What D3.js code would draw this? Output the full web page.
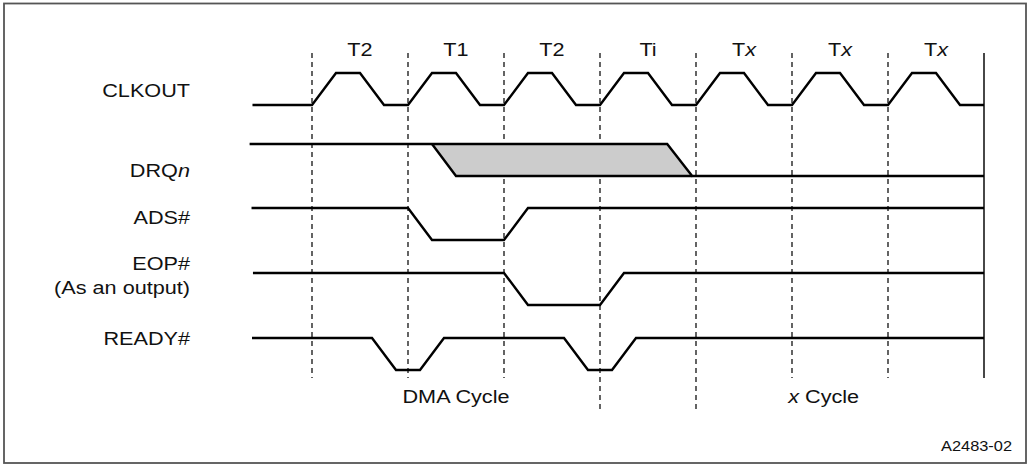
<!DOCTYPE html>
<html>
<head>
<meta charset="utf-8">
<script src="https://cdn.jsdelivr.net/npm/d3@7"></script>
<style>
  body { margin: 0; background: #fff; }
  svg text { font-family: "Liberation Sans", Arial, sans-serif; fill: #111; }
</style>
</head>
<body>
<div id="chart"></div>
<script>
/* cycle labels, one per clock period */
var cycles = [["T2", ""], ["T1", ""], ["T2", ""], ["Ti", ""], ["T", "x"], ["T", "x"], ["T", "x"]];
var signals = ["CLKOUT", "DRQn", "ADS#", "EOP#", "READY#"];

/* waveforms as [time in clocks, level] */
var clkout = [[-0.62, 0], [0, 0], [0.25, 1], [0.5, 1], [0.75, 0], [1, 0], [1.25, 1], [1.5, 1], [1.75, 0],
  [2, 0], [2.25, 1], [2.5, 1], [2.75, 0], [3, 0], [3.25, 1], [3.5, 1], [3.75, 0], [4, 0], [4.25, 1],
  [4.5, 1], [4.75, 0], [5, 0], [5.25, 1], [5.5, 1], [5.75, 0], [6, 0], [6.25, 1], [6.5, 1], [6.75, 0], [7, 0]];
var drqHigh = [[-0.65, 1], [3.7, 1], [3.96, 0], [7, 0]];
var drqLow = [[1.25, 1], [1.5, 0], [3.96, 0]];
var drqShade = [[1.25, 1], [3.7, 1], [3.96, 0], [1.5, 0]];
var ads = [[-0.63, 1], [1, 1], [1.25, 0], [2, 0], [2.25, 1], [7, 1]];
var eop = [[-0.615, 1], [2, 1], [2.25, 0], [3, 0], [3.25, 1], [7, 1]];
var ready = [[-0.625, 1], [0.625, 1], [0.875, 0], [1.125, 0], [1.375, 1], [2.625, 1], [2.875, 0],
  [3.125, 0], [3.375, 1], [7, 1]];

var dashTimes = [0, 1, 2, 3, 4, 5, 6];
var longDash = [3, 4];   // these run down past the cycle labels
var bottomLabels = [{t: 1.5, it: "", post: "DMA Cycle"}, {t: 5.33, it: "x", post: " Cycle"}];

var width = 1027, height = 467;
var svg = d3.select("#chart").append("svg")
  .attr("width", width)
  .attr("height", height);

svg.append("rect")
  .attr("x", 4).attr("y", 3.5)
  .attr("width", 1022).attr("height", 459.5)
  .attr("fill", "none")
  .attr("stroke", "#555")
  .attr("stroke-width", 1.8);

var x = d3.scaleLinear().domain([0, 7]).range([312, 984]);
var rowY = d3.scaleOrdinal().domain(signals).range([73, 144, 208, 273, 338]);
var level = d3.scaleLinear().domain([0, 1]).range([32, 0]);

function lineFor(name) {
  return d3.line()
    .x(function(d) { return x(d[0]); })
    .y(function(d) { return rowY(name) + level(d[1]); });
}

function stretchText(sel, px, py, anchor, size) {
  return sel.append("text")
    .attr("transform", "translate(" + px + "," + py + ") scale(1.17,1)")
    .attr("text-anchor", anchor)
    .attr("font-size", size);
}

/* dashed clock boundaries */
svg.append("g").selectAll("line")
  .data(dashTimes)
  .enter().append("line")
  .attr("x1", function(d) { return x(d); })
  .attr("x2", function(d) { return x(d); })
  .attr("y1", 53)
  .attr("y2", function(d) { return longDash.indexOf(d) >= 0 ? 413 : 378; })
  .attr("stroke", "#111")
  .attr("stroke-width", 1.3)
  .attr("stroke-dasharray", "5,4");

svg.append("line")
  .attr("x1", x(7)).attr("x2", x(7))
  .attr("y1", 53).attr("y2", 378)
  .attr("stroke", "#333")
  .attr("stroke-width", 1.8);

/* DRQ shaded window */
svg.append("path")
  .attr("d", lineFor("DRQn")(drqShade) + "Z")
  .attr("fill", "#cccccc")
  .attr("stroke", "none");

var waves = [["CLKOUT", clkout], ["DRQn", drqHigh], ["DRQn", drqLow], ["ADS#", ads], ["EOP#", eop], ["READY#", ready]];
svg.append("g").selectAll("path")
  .data(waves)
  .enter().append("path")
  .attr("d", function(d) { return lineFor(d[0])(d[1]); })
  .attr("fill", "none")
  .attr("stroke", "#000")
  .attr("stroke-width", 2.4)
  .attr("stroke-linejoin", "miter");

/* cycle names on top */
cycles.forEach(function(c, i) {
  var t = stretchText(svg, x(i + 0.5), 56, "middle", 18.5);
  t.append("tspan").text(c[0]);
  if (c[1]) t.append("tspan").attr("font-style", "italic").text(c[1]);
});

/* signal names */
var sigLabels = [
  {txt: "CLKOUT", it: "", y: 97},
  {txt: "DRQ", it: "n", y: 177},
  {txt: "ADS#", it: "", y: 224},
  {txt: "EOP#", it: "", y: 270},
  {txt: "(As an output)", it: "", y: 294},
  {txt: "READY#", it: "", y: 345}
];
sigLabels.forEach(function(s) {
  var t = stretchText(svg, 190, s.y, "end", 18.5);
  t.append("tspan").text(s.txt);
  if (s.it) t.append("tspan").attr("font-style", "italic").text(s.it);
});

bottomLabels.forEach(function(b) {
  var t = stretchText(svg, x(b.t), 403, "middle", 18.5);
  if (b.it) t.append("tspan").attr("font-style", "italic").text(b.it);
  t.append("tspan").text(b.post);
});

stretchText(svg, 1012, 451, "end", 14).text("A2483-02");
</script>
</body>
</html>
